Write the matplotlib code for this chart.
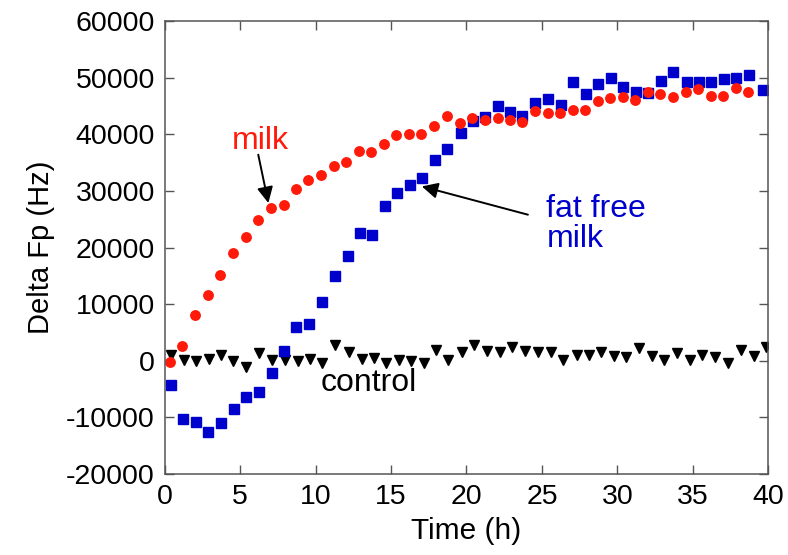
import matplotlib
matplotlib.use("Agg")
import matplotlib.pyplot as plt

plt.rcParams['font.family'] = ['Liberation Sans', 'DejaVu Sans']
plt.rcParams['axes.unicode_minus'] = False

# ---- data ----
milk_t = [0.38, 1.17, 2.03, 2.87, 3.69, 4.52, 5.36, 6.18, 7.04, 7.88,
          8.68, 9.52, 10.38, 11.19, 12.0, 12.87, 13.69, 14.52, 15.34, 16.18,
          17.0, 17.83, 18.68, 19.54, 20.35, 21.2, 22.07, 22.89, 23.69, 24.55,
          25.38, 26.2, 27.04, 27.88, 28.7, 29.54, 30.35, 31.19, 32.01, 32.85,
          33.66, 34.55, 35.36, 36.2, 37.02, 37.86, 38.68]
milk_v = [-300, 2650, 8000, 11700, 15070, 18960, 21790, 24790, 26910, 27560,
          30330, 31920, 32800, 34330, 35030, 37100, 36800, 38280, 39870, 39990,
          39990, 41520, 43290, 41930, 42880, 42500, 42880, 42460, 42100, 44050,
          43760, 43760, 44230, 44350, 45940, 46410, 46530, 46110, 47410, 47110,
          46530, 47410, 48000, 46820, 46700, 48180, 47470]

ffm_t = [0.40, 1.21, 2.05, 2.89, 3.73, 4.57, 5.41, 6.23, 7.09, 7.9,
         8.72, 9.56, 10.42, 11.26, 12.12, 12.91, 13.73, 14.59, 15.41, 16.23,
         17.07, 17.93, 18.74, 19.62, 20.42, 21.24, 22.07, 22.89, 23.69, 24.55,
         25.43, 26.23, 27.04, 27.93, 28.74, 29.58, 30.4, 31.24, 32.05, 32.89,
         33.71, 34.59, 35.38, 36.2, 37.09, 37.86, 38.7, 39.62]
ffm_v = [-4240, -10300, -10900, -12670, -11010, -8530, -6480, -5600, -2180, 1710,
         5890, 6480, 10300, 14890, 18430, 22560, 22260, 27390, 29630, 31040,
         32330, 35510, 37400, 40230, 42280, 42990, 45050, 43940, 43170, 45520,
         46230, 45230, 49240, 47110, 48880, 49940, 48350, 47470, 47290, 49470,
         51000, 49240, 49240, 49240, 49820, 49940, 50530, 47880]

ctrl_t = [0.41, 1.25, 2.1, 2.91, 3.76, 4.55, 5.4, 6.27, 7.13, 7.98,
          8.85, 9.64, 10.43, 11.28, 12.2, 13.07, 13.84, 14.66, 15.5, 16.34,
          17.16, 17.95, 18.8, 19.67, 20.51, 21.36, 22.23, 23.02, 23.86, 24.73,
          25.58, 26.4, 27.29, 28.11, 28.9, 29.75, 30.59, 31.46, 32.3, 33.12,
          33.97, 34.81, 35.63, 36.48, 37.32, 38.19, 39.03, 39.83]
ctrl_v = [1060, 177, -118, 295, 1060, -118, -1118, 1355, 59, 59,
          -118, 295, -412, 2827, 1472, 295, 471, -412, 177, -118,
          -412, 1943, 59, 1472, 2827, 1649, 1472, 2415, 1649, 1472,
          1472, 59, 1060, 1060, 1472, 883, 648, 2238, 883, 59,
          1355, 59, 1060, 648, -412, 1826, 883, 2415]

x_ticks = [0, 5, 10, 15, 20, 25, 30, 35, 40]
y_ticks = [-20000, -10000, 0, 10000, 20000, 30000, 40000, 50000, 60000]

RED = '#ff1a0a'
BLUE = '#0000cc'

fig = plt.figure(figsize=(7.88, 5.55), dpi=100)
ax = fig.add_axes([0.209, 0.146, 0.766, 0.816])

ax.plot(ctrl_t, ctrl_v, linestyle='none', marker='v', color='black', markersize=7.5)
ax.plot(ffm_t, ffm_v, linestyle='none', marker='s', color=BLUE, markersize=7.8)
ax.plot(milk_t, milk_v, linestyle='none', marker='o', color=RED, markersize=6.8)

ax.set_xlim(0, 40)
ax.set_ylim(-20000, 60000)
ax.set_xticks(x_ticks)
ax.set_yticks(y_ticks)
ax.tick_params(direction='in', length=6.5, width=1.0, color='#555555',
               labelsize=20.5, top=True, right=True, pad=7)
for s in ax.spines.values():
    s.set_color('#555555')
    s.set_linewidth(1.1)

ax.set_xlabel('Time (h)', fontsize=21.5, labelpad=5)
ax.set_ylabel('Delta Fp (Hz)', fontsize=21, labelpad=8)

arrow = dict(arrowstyle='-|>', color='black', lw=1.4, mutation_scale=24,
             shrinkA=0, shrinkB=0)
ax.annotate('', xy=(6.87, 27860), xytext=(6.2, 36400), arrowprops=arrow)
ax.text(6.35, 38750, 'milk', color=RED, fontsize=23, ha='center', va='center')

ax.annotate('', xy=(17.04, 30800), xytext=(24.07, 25800), arrowprops=arrow)
ax.text(25.3, 24200, 'fat free\nmilk', color=BLUE, fontsize=23, ha='left',
        va='center', linespacing=1.0)

ax.text(13.54, -3890, 'control', color='black', fontsize=23, ha='center', va='center')

fig.savefig('out.png', dpi=100)
